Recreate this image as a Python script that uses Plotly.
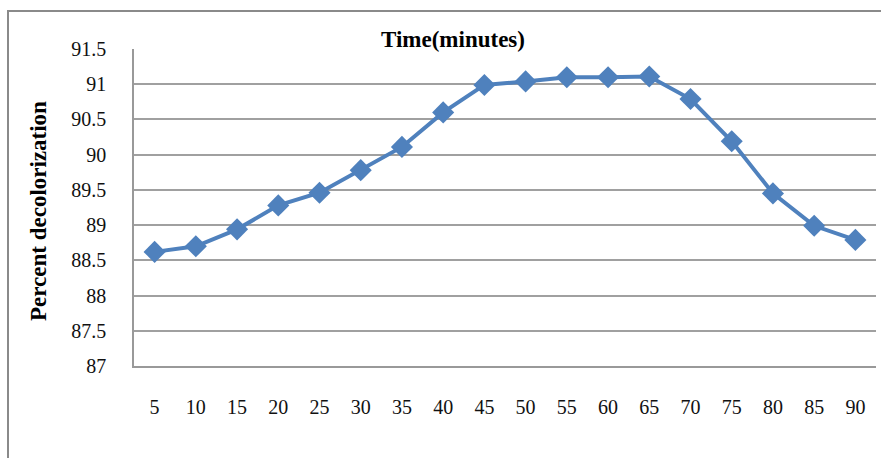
import plotly.graph_objects as go

# Decolorization over time
time_min = ["5", "10", "15", "20", "25", "30", "35", "40", "45",
            "50", "55", "60", "65", "70", "75", "80", "85", "90"]
percent_decol = [88.62, 88.70, 88.94, 89.28, 89.46, 89.78, 90.11, 90.60, 90.99,
                 91.04, 91.10, 91.10, 91.11, 90.79, 90.19, 89.45, 88.99, 88.79]
y_ticks = [87, 87.5, 88, 88.5, 89, 89.5, 90, 90.5, 91, 91.5]
y_tick_text = ["87", "87.5", "88", "88.5", "89", "89.5", "90", "90.5", "91", "91.5"]

blue = "#4F81BD"
serif = "Times New Roman"

fig = go.Figure(go.Scatter(
    x=time_min, y=percent_decol, mode="lines+markers",
    line=dict(color=blue, width=4),
    marker=dict(symbol="diamond", size=17, color=blue),
    showlegend=False,
))

W, H = 881, 458
L, R, T, B = 134, 5, 49, 92
pw, ph = W - L - R, H - T - B

def px_to_paper_x(px):
    return (px - L) / pw

def px_to_paper_y(py):
    return (H - B - py) / ph

fig.update_layout(
    width=W, height=H,
    margin=dict(l=L, r=R, t=T, b=B),
    paper_bgcolor="white", plot_bgcolor="white",
    font=dict(family=serif, size=19, color="#111"),
    xaxis=dict(
        type="category", range=[-0.5, len(time_min) - 0.5],
        showgrid=False, ticks="",
        showline=True, linecolor="#999", linewidth=1.5,
        tickfont=dict(family=serif, size=20, color="#111"),
        ticklabelstandoff=22, fixedrange=True,
    ),
    yaxis=dict(
        range=[87, 91.5], tickvals=y_ticks, ticktext=y_tick_text,
        showgrid=True, gridcolor="#a0a0a0", gridwidth=1.5,
        showline=True, linecolor="#999", linewidth=1.5,
        zeroline=False, ticks="",
        tickfont=dict(family=serif, size=20, color="#111"),
        ticklabelstandoff=22, fixedrange=True,
    ),
    shapes=[
        # outer chart frame (runs off the right and bottom edges)
        dict(type="rect", xref="paper", yref="paper", layer="below",
             x0=px_to_paper_x(8), x1=px_to_paper_x(W + 10),
             y0=px_to_paper_y(H + 10), y1=px_to_paper_y(11),
             line=dict(color="#8a8a8a", width=2), fillcolor="rgba(0,0,0,0)"),
    ],
    annotations=[
        dict(text="<b>Time(minutes)</b>", xref="paper", yref="paper",
             x=px_to_paper_x(453), y=px_to_paper_y(40),
             xanchor="center", yanchor="middle", showarrow=False,
             font=dict(family=serif, size=23, color="#000")),
        dict(text="<b>Percent decolorization</b>", xref="paper", yref="paper",
             x=px_to_paper_x(39), y=px_to_paper_y(211), textangle=-90,
             xanchor="center", yanchor="middle", showarrow=False,
             font=dict(family=serif, size=23, color="#000")),
    ],
)

fig.write_html("out.html")
